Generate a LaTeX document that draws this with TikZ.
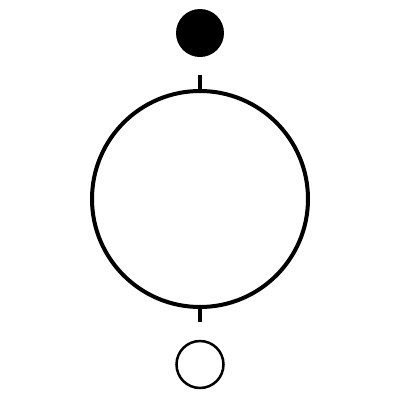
\documentclass[tikz,border=0pt]{standalone}
\begin{document}
\begin{tikzpicture}[x=1bp,y=-1bp,
  bigring/.style={circle,draw,line width=4bp,minimum size=216bp,inner sep=0pt},
  blackdot/.style={circle,fill=black,minimum size=48bp,inner sep=0pt},
  opendot/.style={circle,draw,line width=2.5bp,minimum size=47bp,inner sep=0pt},
  tick/.style={line width=3.5bp}]
\useasboundingbox (0,0) rectangle (400,400);
\node[bigring] (big) at (200,199) {};
\node[blackdot] (top) at (200,33) {};
\node[opendot] (bot) at (200,364.5) {};
\coordinate (t1) at (200,75);
\coordinate (b1) at (200,322);
\draw[tick] (t1) -- (big.north);
\draw[tick] (big.south) -- (b1);
\end{tikzpicture}
\end{document}
